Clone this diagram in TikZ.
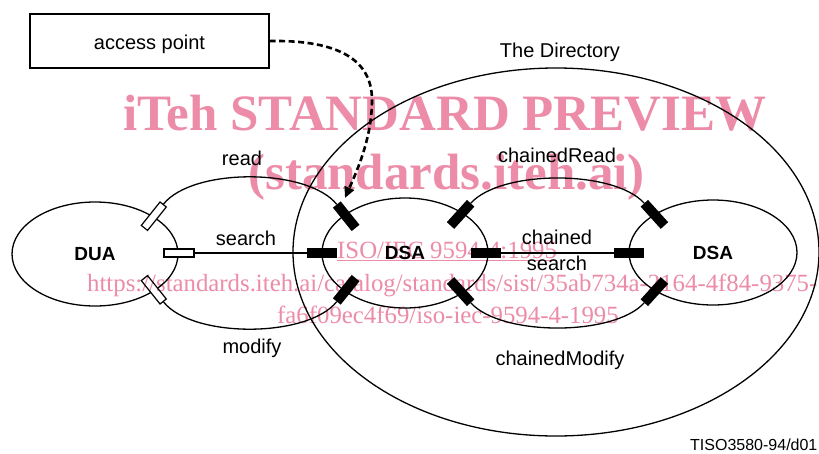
\documentclass[tikz,border=0pt]{standalone}
\usepackage{fontspec}
\setmainfont{Liberation Sans}
\newfontfamily\wmfont{Liberation Serif}
\usetikzlibrary{shapes.geometric,arrows.meta}
\definecolor{wmpink}{RGB}{236,140,168}
\begin{document}
\begin{tikzpicture}[x=1pt,y=-1pt,
  every node/.style={inner sep=0pt},
  ring/.style={draw, ellipse, line width=1.3pt},
  uaport/.style={draw, fill=white, line width=1.2pt, minimum width=30pt, minimum height=8pt},
  saport/.style={fill=black, minimum width=30pt, minimum height=10pt},
  link/.style={line width=1.3pt},
  lbl/.style={anchor=base, font=\fontsize{20}{24}\selectfont},
  entity/.style={ring, font=\bfseries\fontsize{19}{23}\selectfont},
  apline/.style={line width=2.6pt, dash pattern=on 6pt off 3.5pt, -{Triangle[length=11pt,width=10pt]}},
  wmbig/.style={anchor=base west, text=wmpink, font=\wmfont\bfseries\fontsize{51}{60}\selectfont},
  wmsmall/.style={anchor=base west, text=wmpink, font=\wmfont\fontsize{24.8}{30}\selectfont}
]
\fill[white] (0,0) rectangle (819,453);
\useasboundingbox (0,0) rectangle (819,453);

% the Directory and its parts
\node[ring, minimum width=526pt, minimum height=368pt] (dir) at (556,252) {};
\node[lbl] (dirlbl) at (560,57) {The Directory};

\node[entity, minimum width=166pt, minimum height=104pt] (dua) at (95,254) {DUA};
\node[entity, minimum width=166pt, minimum height=110pt] (dsa1) at (405,253) {DSA};
\node[entity, minimum width=168pt, minimum height=105pt] (dsa2) at (713,252.5) {DSA};

% access point box
\node[draw, line width=1.3pt, minimum width=239pt, minimum height=54pt,
      text height=17pt, text depth=0pt, font=\fontsize{20}{24}\selectfont]
      (ap) at (149.5,41) {access point};

% ports of the DUA
\node[uaport, rotate=51.3]  (pUr) at (153.8,216.2) {};
\node[uaport, rotate=-51.3] (pUm) at (153.8,289.8) {};
\node[uaport]               (pUs) at (179,253) {};
% ports of the first DSA
\node[saport, rotate=-51.3] (pAr) at (346.2,216.2) {};
\node[saport, rotate=51.3]  (pAm) at (346.2,289.8) {};
\node[saport]               (pAs) at (322,253) {};
\node[saport, rotate=47.8]  (pBr) at (460.6,214.4) {};
\node[saport, rotate=-47.8] (pBm) at (460.6,291.6) {};
\node[saport]               (pBs) at (486,253) {};
% ports of the second DSA
\node[saport, rotate=-47.8] (pCr) at (654.4,214.4) {};
\node[saport, rotate=47.8]  (pCm) at (654.4,291.6) {};
\node[saport]               (pCs) at (629,253) {};

% DUA -- DSA operations
\draw[link] (pUr.east) to[out=51.3, in=128.7, looseness=0.69] (pAr.west);
\draw[link] (pUm.east) to[out=-51.3, in=-128.7, looseness=0.69] (pAm.west);
\draw[link] (pUs.east) -- (pAs.west);
% DSA -- DSA chained operations
\draw[link] (pBr.east) to[out=47.8, in=132.2, looseness=0.67] (pCr.west);
\draw[link] (pBm.east) to[out=-47.8, in=-132.2, looseness=0.67] (pCm.west);
\draw[link] (pBs.east) -- (pCs.west);

% operation labels
\node[lbl] (lread)   at (242,165) {read};
\node[lbl] (lsearch) at (246,245) {search};
\node[lbl] (lmodify) at (252,353) {modify};
\node[lbl] (lcread)  at (557,162) {chainedRead};
\node[lbl] (lcsrch1) at (557,244) {chained};
\node[lbl] (lcsrch2) at (557,270) {search};
\node[lbl] (lcmod)   at (560,365) {chainedModify};

% access point reference
\coordinate (aptip) at (345,198);
\draw[apline] (ap.east) .. controls (330,40) and (372,55) .. (372,100)
                        .. controls (372,140) and (355,175) .. (aptip);

\node[anchor=base west, font=\fontsize{16}{19}\selectfont] (fig) at (690,450) {TISO3580-94/d01};

% preview stamp
\begin{scope}[blend mode=multiply]
\node[wmbig] (wm1) at (123,130) {iTeh STANDARD PREVIEW};
\node[wmbig] (wm2) at (248,189) {(standards.iteh.ai)};
\node[wmsmall] (wm3) at (337,258) {ISO/IEC 9594-4:1995};
\draw[wmpink, line width=1.3pt] ([yshift=-2.2pt]wm3.base west) -- ([yshift=-2.2pt]wm3.base east);
\node[wmsmall] (wm4) at (87,291) {https://standards.iteh.ai/catalog/standards/sist/35ab734a-2164-4f84-9375-};
\node[wmsmall] (wm5) at (277,323) {fa6f09ec4f69/iso-iec-9594-4-1995};
\end{scope}
\end{tikzpicture}
\end{document}
